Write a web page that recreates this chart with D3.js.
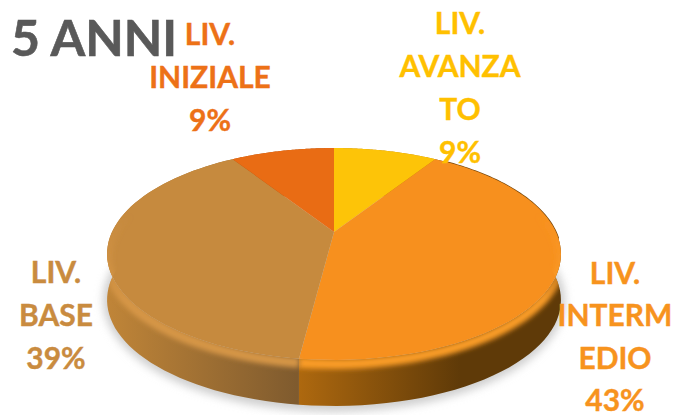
<!DOCTYPE html>
<html><head><meta charset="utf-8">
<script src="https://cdn.jsdelivr.net/npm/d3@7"></script>
<style>html,body{margin:0;background:#fff}svg{display:block}</style></head>
<body><svg id="c" width="679" height="415"></svg>
<script>
const categories = ["LIV. AVANZATO","LIV. INTERMEDIO","LIV. BASE","LIV. INIZIALE"];
const values = [9,43,39,9];
const labelLines = [["LIV.","AVANZA","TO","9%"],["LIV.","INTERM","EDIO","43%"],["LIV.","BASE","39%"],["LIV.","INIZIALE","9%"]];
const title = "5 ANNI";
const faceColors = ["#fdc408","#f7901e","#c68a3e","#e96c14"];
const rimColors = ["#fdc408","#fa9c28","#d69646","#e96c14"];
const wallStops = [["#c08000","#c08000"],["#ad680f","#5f3a08"],["#c08538","#7e5a2e"],["#b05010","#b05010"]];
const labelColors = ["#ffc000","#f7931e","#c98b3f","#ed7117"];
const labelX = [460,615,56,210];
const labelY = [34,284,283,45];
const lineSteps = [43,42.3,43,43];

const W=679,H=415, cx=334, cy=232;
const a=222,b=101.4,k=0.2075, depth=46;
const project=(ang,r=1)=>{const X=Math.sin(ang)*r,Y=Math.cos(ang)*r,w=1+k*Y;return [cx+a*X/w,cy-b*Y/w];};
const svg=d3.select("#c");
const defs=svg.append("defs");
const blur=(id,s)=>defs.append("filter").attr("id",id).attr("filterUnits","userSpaceOnUse")
  .attr("x",0).attr("y",0).attr("width",W).attr("height",H).append("feGaussianBlur").attr("stdDeviation",s);
blur("b1",2.4);blur("b2",4);blur("b0",0.6);
const pie=d3.pie().sort(null).value(d=>d);
const arcs=pie(values);
const arcPts=(s,e,r=1)=>d3.range(0,61).map(i=>project(s+(e-s)*i/60,r));
const line=d3.line();
const full=arcPts(0,2*Math.PI);
const shifted=pts=>pts.map(p=>[p[0],p[1]+depth]);

const hull=d3.polygonHull(full.concat(shifted(full)));
defs.append("clipPath").attr("id","sil").append("path").attr("d",line(hull)+"Z");
const sliceD=d=>line([[cx,cy],...arcPts(d.startAngle,d.endAngle)])+"Z";
arcs.forEach((d,i)=>{
  const g=defs.append("linearGradient").attr("id","w"+i).attr("gradientUnits","userSpaceOnUse")
    .attr("x1",i==2?107:300).attr("x2",i==2?300:460).attr("y1",0).attr("y2",0);
  g.append("stop").attr("offset",0).attr("stop-color",wallStops[i][0]);
  g.append("stop").attr("offset",1).attr("stop-color",wallStops[i][1]);
  const pts=arcPts(d.startAngle,d.endAngle);
  defs.append("clipPath").attr("id","s"+i).append("path")
    .attr("d",line([[cx,cy],...pts,...shifted(pts).reverse()])+"Z");
  const r=defs.append("linearGradient").attr("id","r"+i).attr("gradientUnits","userSpaceOnUse")
    .attr("x1",0).attr("x2",0).attr("y1",215).attr("y2",300);
  r.append("stop").attr("offset",0).attr("stop-color",rimColors[i]).attr("stop-opacity",0);
  r.append("stop").attr("offset",1).attr("stop-color",rimColors[i]).attr("stop-opacity",1);
});

// shadow
svg.append("ellipse").attr("cx",334).attr("cy",300).attr("rx",231).attr("ry",112)
  .attr("fill","#cfcfcf").attr("filter","url(#b2)");
// walls
svg.append("g").selectAll("path").data(arcs).join("path")
  .attr("d",d=>{const p=arcPts(d.startAngle,d.endAngle);return line([...p,...shifted(p).reverse()])+"Z";})
  .attr("fill",(d,i)=>`url(#w${i})`);
// darker edge on the right shoulder of the disc
svg.append("path").attr("d",line(arcPts(Math.PI*0.2,Math.PI*0.52))).attr("fill","none")
  .attr("stroke","#7a4a10").attr("stroke-width",1.4).attr("filter","url(#b0)");
// top face
svg.append("g").selectAll("path").data(arcs).join("path")
  .attr("d",sliceD).attr("fill",(d,i)=>faceColors[i]);
// soft bevel at the disc edge, one per slice
const rim=svg.append("g").attr("clip-path","url(#sil)");
arcs.forEach((d,i)=>{
  const pts=arcPts(d.startAngle,d.endAngle).map(p=>[p[0],p[1]+4]);
  rim.append("g").attr("clip-path",`url(#s${i})`).append("path")
    .attr("d",line(pts)).attr("fill","none")
    .attr("stroke",`url(#r${i})`).attr("stroke-width",10)
    .attr("filter","url(#b1)");
});
// labels
labelLines.forEach((ls,i)=>{
  svg.append("text").attr("font-family","Lato, 'Open Sans', sans-serif").attr("font-weight",700)
    .attr("font-size",30).attr("fill",labelColors[i]).attr("stroke",labelColors[i]).attr("stroke-width",0.4).attr("text-anchor","middle")
    .selectAll("tspan").data(ls).join("tspan")
    .attr("x",labelX[i]).attr("y",(t,j)=>labelY[i]+j*lineSteps[i]).text(t=>t);
});
svg.append("text").attr("x",11).attr("y",56).attr("font-family","Lato, 'Open Sans', sans-serif")
  .attr("font-weight",700).attr("font-size",50).attr("fill","#595959").attr("stroke","#595959").attr("stroke-width",0.6).text(title);
</script></body></html>
